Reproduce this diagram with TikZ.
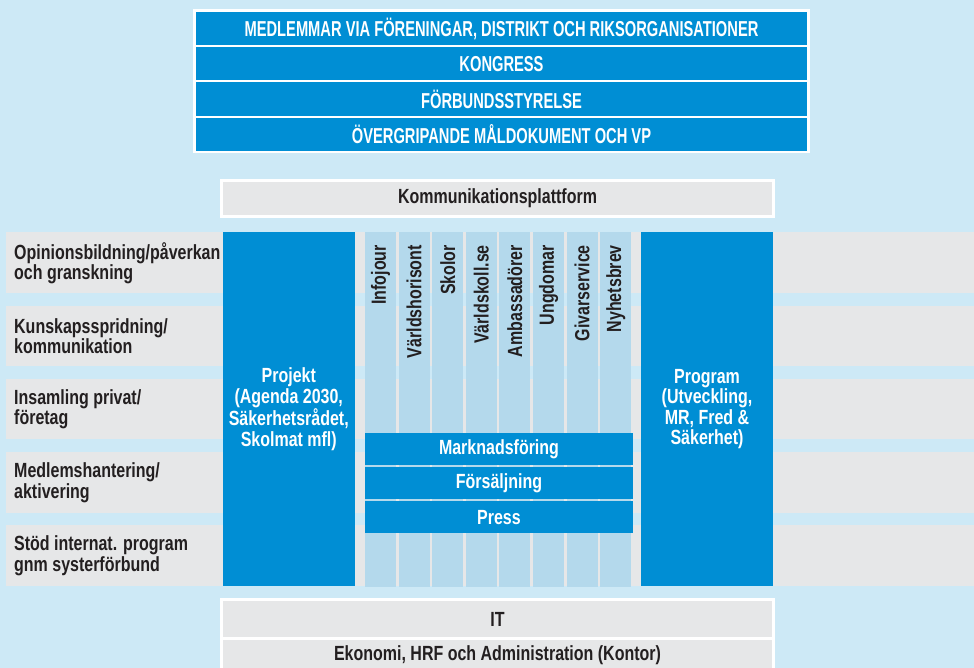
\documentclass[tikz,border=0pt]{standalone}
\usepackage{fontspec}
\newfontfamily\condfont{Liberation Sans}[FakeStretch=0.78]
\newfontfamily\capsfont{Liberation Sans}[FakeStretch=0.68]
\definecolor{bgblue}{RGB}{205,233,246}
\definecolor{mainblue}{RGB}{0,142,212}
\definecolor{lgrey}{RGB}{230,231,232}
\definecolor{colblue}{RGB}{180,217,236}
\definecolor{txtdark}{RGB}{35,31,32}
\begin{document}
\begin{tikzpicture}[x=1pt,y=-1pt,
  cell/.style={inner sep=0pt, outer sep=0pt, anchor=north west, draw=none},
  bluecell/.style={cell, fill=mainblue, text=white, align=center,
    font=\condfont\bfseries\fontsize{20.5}{20.5}\selectfont},
  capcell/.style={cell, fill=mainblue, text=white,
    font=\capsfont\bfseries\fontsize{21.6}{22}\selectfont},
  greycell/.style={cell, fill=lgrey, text=txtdark, align=center,
    font=\condfont\bfseries\fontsize{20.5}{20.5}\selectfont},
  whitecell/.style={cell, fill=white},
  colcell/.style={cell, fill=colblue},
  rowlabel/.style={inner sep=0pt, anchor=west, align=left, text=txtdark,
    font=\condfont\bfseries\fontsize{20.5}{20.5}\selectfont},
  collabel/.style={inner sep=0pt, anchor=east, rotate=90, text=txtdark,
    font=\condfont\bfseries\fontsize{20.5}{20.5}\selectfont}]
\fill[bgblue] (0,0) rectangle (974,668);
\useasboundingbox (0,0) rectangle (974,668);

% top governance block
\node[whitecell, minimum width=617, minimum height=144] (topframe) at (193,9) {};
\node[capcell, minimum width=611, minimum height=33.25] (medl) at (196,12) {MEDLEMMAR VIA FÖRENINGAR, DISTRIKT OCH RIKSORGANISATIONER};
\node[capcell, minimum width=611, minimum height=33.25] (kongress) at (196,47.25) {KONGRESS};
\node[capcell, minimum width=611, minimum height=33.25] (styrelse) at (196,82.5) {FÖRBUNDSSTYRELSE};
\node[capcell, minimum width=611, minimum height=33.25] (maldok) at (196,117.75) {ÖVERGRIPANDE MÅLDOKUMENT OCH VP};

% communication platform
\node[whitecell, minimum width=555, minimum height=39] (komframe) at (220,179) {};
\node[greycell, minimum width=549, minimum height=33] (kom) at (223,182) {Kommunikationsplattform};

% horizontal rows
\node[cell, fill=lgrey, minimum width=968, minimum height=60.5] (row1) at (6,232.5) {};
\node[cell, fill=lgrey, minimum width=968, minimum height=60.5] (row2) at (6,305.7) {};
\node[cell, fill=lgrey, minimum width=968, minimum height=60.5] (row3) at (6,378.9) {};
\node[cell, fill=lgrey, minimum width=968, minimum height=60.5] (row4) at (6,452.1) {};
\node[cell, fill=lgrey, minimum width=968, minimum height=60.5] (row5) at (6,525.3) {};
\node[rowlabel] (lab1) at (14,263) {Opinionsbildning/påverkan\\och granskning};
\node[rowlabel] (lab2) at (14,336.2) {Kunskapsspridning/\\kommunikation};
\node[rowlabel] (lab3) at (14,409.4) {Insamling privat/\\företag};
\node[rowlabel] (lab4) at (14,482.6) {Medlemshantering/\\aktivering};
\node[rowlabel] (lab5) at (14,555.8) {Stöd internat. program\\gnm systerförbund};

% big columns
\node[bluecell, minimum width=132.5, minimum height=353.5] (projekt) at (222.5,232.5) {Projekt\\(Agenda 2030,\\Säkerhetsrådet,\\Skolmat mfl)};
\node[bluecell, minimum width=132, minimum height=353.5] (program) at (641,232.5) {Program\\(Utveckling,\\MR, Fred \&\\Säkerhet)};

% thin columns
\foreach \i/\t in {0/Infojour,1/Världshorisont,2/Skolor,3/Världskoll.se,4/Ambassadörer,5/Ungdomar,6/Givarservice,7/Nyhetsbrev}{
  \node[colcell, minimum width=31, minimum height=354] (col\i) at ({365+\i*33.6},232.5) {};
  \node[collabel] (clab\i) at ({380.5+\i*33.6},245) {\t};
}

% horizontal bars
\node[bluecell, minimum width=268, minimum height=32.3] (mark) at (365,432.7) {Marknadsföring};
\node[bluecell, minimum width=268, minimum height=32.3] (forsalj) at (365,466.8) {Försäljning};
\node[bluecell, minimum width=268, minimum height=32.3] (press) at (365,500.9) {Press};

% bottom block
\node[whitecell, minimum width=555, minimum height=80] (botframe) at (220,598) {};
\node[greycell, minimum width=549, minimum height=36] (it) at (223,601) {IT};
\node[greycell, minimum width=549, minimum height=40] (eko) at (223,640) {};
\node[inner sep=0pt, text=txtdark, font=\condfont\bfseries\fontsize{20.5}{20.5}\selectfont] (ekolab) at (497.5,655) {Ekonomi, HRF och Administration (Kontor)};
\end{tikzpicture}
\end{document}
